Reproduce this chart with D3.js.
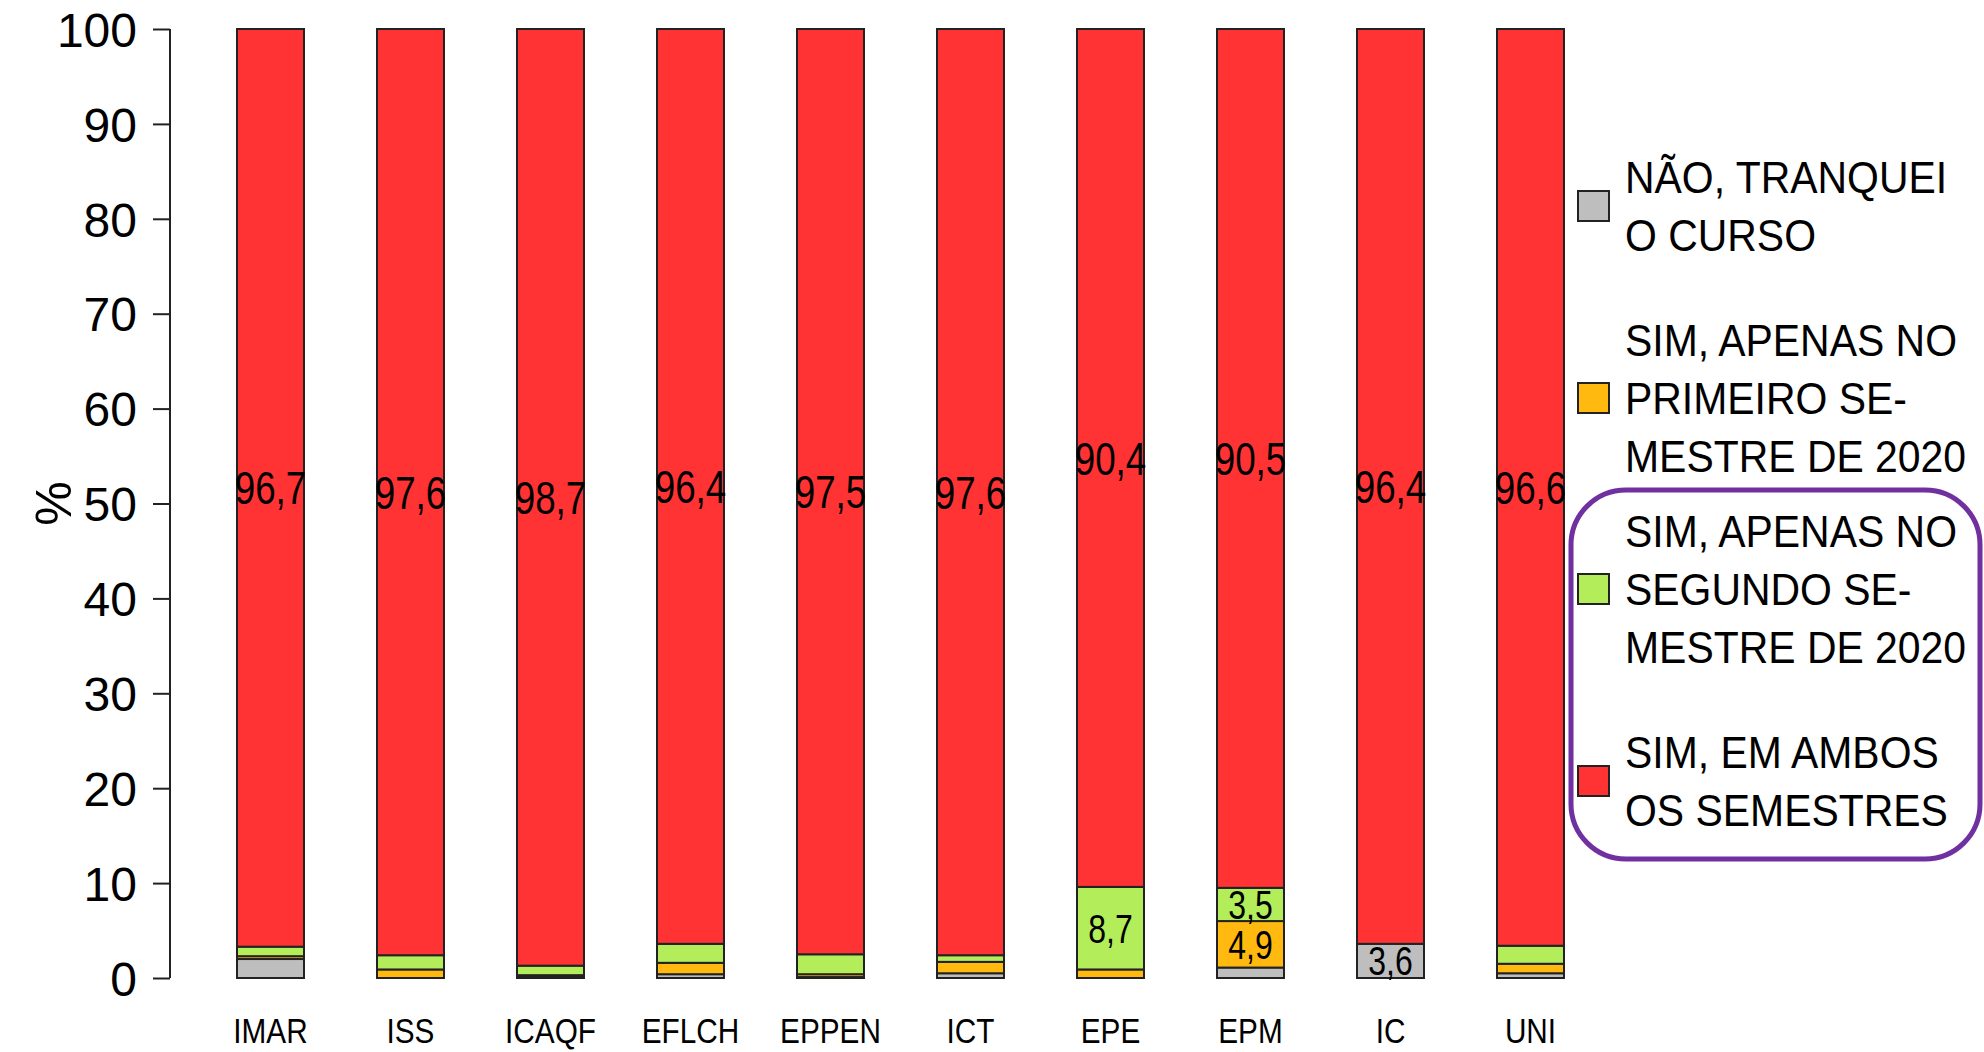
<!DOCTYPE html>
<html>
<head>
<meta charset="utf-8">
<script src="https://cdn.jsdelivr.net/npm/d3@7"></script>
<style>
  html, body { margin: 0; padding: 0; background: #fff; }
  svg { display: block; font-family: "Liberation Sans", Arial, sans-serif; }
</style>
</head>
<body>
<svg id="chart" width="1984" height="1052"></svg>
<script>
// ---- data ----
const categories = ["IMAR", "ISS", "ICAQF", "EFLCH", "EPPEN", "ICT", "EPE", "EPM", "IC", "UNI"];
const seriesNames = ["trancou", "primeiro", "segundo", "ambos"];
const trancou  = [2.0, 0.0, 0.1, 0.4, 0.1, 0.5, 0.0, 1.1, 3.6, 0.5];
const primeiro = [0.3, 0.9, 0.2, 1.2, 0.3, 1.2, 0.9, 4.9, 0.0, 1.0];
const segundo  = [1.0, 1.5, 1.0, 2.0, 2.1, 0.7, 8.7, 3.5, 0.0, 1.9];
const ambos    = [96.7, 97.6, 98.7, 96.4, 97.5, 97.6, 90.4, 90.5, 96.4, 96.6];
const yTicks = [0, 10, 20, 30, 40, 50, 60, 70, 80, 90, 100];
const legendLabels = [
  ["NÃO, TRANQUEI", "O CURSO"],
  ["SIM, APENAS NO", "PRIMEIRO SE-", "MESTRE DE 2020"],
  ["SIM, APENAS NO", "SEGUNDO SE-", "MESTRE DE 2020"],
  ["SIM, EM AMBOS", "OS SEMESTRES"]
];
const colors = ["#BEBEBE", "#FFB90F", "#B3EE5A", "#FF3333"];

// ---- build table ----
const table = categories.map((c, i) => ({
  cat: c, trancou: trancou[i], primeiro: primeiro[i], segundo: segundo[i], ambos: ambos[i]
}));
const stacked = d3.stack().keys(seriesNames)(table);

const svg = d3.select("#chart");

const x = d3.scaleBand()
  .domain(categories)
  .range([200.5, 1600.5])
  .paddingInner(0.5214)
  .paddingOuter(0.2607);
const y = d3.scaleLinear().domain([0, 100]).range([978, 29]);
const color = d3.scaleOrdinal().domain(seriesNames).range(colors);

function squeeze(sel, factor) {
  sel.each(function () {
    const len = this.getComputedTextLength();
    d3.select(this).attr("textLength", len * factor).attr("lengthAdjust", "spacingAndGlyphs");
  });
}

// ---- bars ----
const layers = svg.append("g").selectAll("g")
  .data(stacked).join("g")
  .attr("fill", d => color(d.key));

layers.selectAll("rect")
  .data(d => d.map(v => ({ v, key: d.key })))
  .join("rect")
  .attr("x", d => x(d.v.data.cat))
  .attr("width", x.bandwidth())
  .attr("y", d => y(d.v[1]))
  .attr("height", d => y(d.v[0]) - y(d.v[1]))
  .attr("stroke", "#222")
  .attr("stroke-width", 2);

// ---- value labels ----
const fmt = v => d3.format(".1f")(v).replace(".", ",");
const labelData = [];
stacked.forEach(s => s.forEach(v => {
  const val = v[1] - v[0];
  if (val >= 3) labelData.push({ cat: v.data.cat, mid: (v[0] + v[1]) / 2, val });
}));
svg.append("g").selectAll("text")
  .data(labelData).join("text")
  .attr("x", d => x(d.cat) + x.bandwidth() / 2)
  .attr("y", d => y(d.mid))
  .attr("dy", "0.36em")
  .attr("text-anchor", "middle")
  .attr("font-size", d => d.val < 10 ? 40 : 46)
  .attr("fill", "#000")
  .text(d => fmt(d.val))
  .call(squeeze, 0.8);

// ---- y axis ----
const yAxis = svg.append("g")
  .attr("transform", "translate(170,0)")
  .call(d3.axisLeft(y).tickValues(yTicks).tickSize(17).tickPadding(16).tickFormat(d3.format("d")));
yAxis.select(".domain").attr("stroke", "#222").attr("stroke-width", 2).attr("d", `M0,${y(0)}V${y(100)}`);
yAxis.selectAll(".tick line").attr("stroke", "#222").attr("stroke-width", 2);
yAxis.selectAll(".tick text")
  .attr("font-size", 48)
  .attr("font-family", "Liberation Sans, Arial, sans-serif")
  .attr("fill", "#000")
  .attr("dy", "0.36em");

svg.append("text")
  .attr("transform", `translate(71,${y(50)}) rotate(-90)`)
  .attr("text-anchor", "middle")
  .attr("font-size", 50)
  .text("%");

// ---- x labels ----
svg.append("g").selectAll("text")
  .data(categories).join("text")
  .attr("x", d => x(d) + x.bandwidth() / 2)
  .attr("y", 1043)
  .attr("text-anchor", "middle")
  .attr("font-size", 35)
  .text(d => d)
  .call(squeeze, 0.85);

// ---- legend ----
const legendY = [206, 398, 589, 781];
const lineH = 58;
const leg = svg.append("g").selectAll("g")
  .data(legendLabels).join("g")
  .attr("transform", (d, i) => `translate(1578,${legendY[i]})`);
leg.append("rect")
  .attr("x", 0).attr("y", -15).attr("width", 31).attr("height", 30)
  .attr("fill", (d, i) => colors[i])
  .attr("stroke", "#222").attr("stroke-width", 2);
leg.each(function (lines) {
  const g = d3.select(this);
  const n = lines.length;
  g.selectAll("text").data(lines).join("text")
    .attr("x", 47)
    .attr("y", (l, j) => (j - (n - 1) / 2) * lineH)
    .attr("dy", "0.36em")
    .attr("font-size", 44)
    .text(l => l)
    .call(squeeze, 0.93);
});

// ---- highlight box ----
svg.append("rect")
  .attr("x", 1571).attr("y", 490)
  .attr("width", 409).attr("height", 369)
  .attr("rx", 55).attr("ry", 55)
  .attr("fill", "none")
  .attr("stroke", "#7030A0")
  .attr("stroke-width", 5);
</script>
</body>
</html>
